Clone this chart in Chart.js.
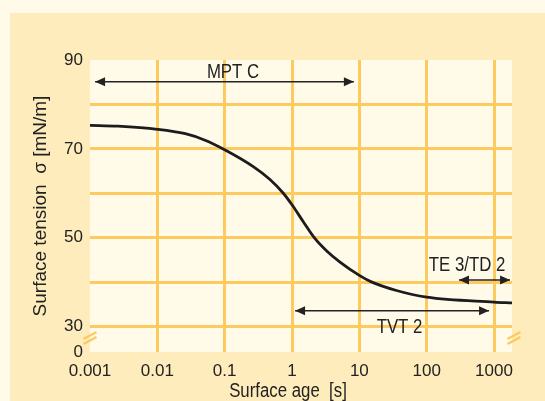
<!DOCTYPE html>
<html>
<head>
<meta charset="utf-8">
<script src="https://cdn.jsdelivr.net/npm/chart.js@4.4.0/dist/chart.umd.min.js"></script>
<style>
    html, body { margin: 0; padding: 0; background: #fffbe8; overflow: hidden; }
    #panel { position: absolute; left: 10px; top: 13px; right: 0; bottom: 0; background: #feecbc; }
    #wrap { position: absolute; left: 0; top: 0; width: 545px; height: 401px; }
</style>
</head>
<body>
<div id="panel"></div>
<div id="wrap"><canvas id="chart" width="545" height="401"></canvas></div>
<script>
// 表面年齢 [s] と表面張力 [mN/m]
const ageValues = [0.001, 0.0026, 0.01, 0.026, 0.05, 0.1, 0.266, 0.471, 0.743, 1, 1.47, 2.14, 3.28, 5.16, 10, 14.8, 35.6, 100, 1000, 1850];
const tensionValues = [75.3, 75.1, 74.4, 73.4, 72.0, 69.8, 66.0, 63.1, 60.0, 57.4, 53.6, 50.0, 47.0, 44.5, 41.5, 40.1, 38.1, 36.6, 35.5, 35.3];

// 目盛り
const xTickValues = [0.001, 0.01, 0.1, 1, 10, 100, 1000];
const xTickLabels = ['0.001', '0.01', '0.1', '1', '10', '100', '1000'];
const yTickValues = [24.26, 30, 40, 50, 60, 70, 80, 90];
const yTickLabels = ['0', '30', '', '50', '', '70', '', '90'];

// 測定範囲（矢印）
const rangeNames = ['MPT C', 'TVT 2', 'TE 3/TD 2'];
const rangeFrom = [0.00119, 1.11, 302];
const rangeTo = [8.3, 844, 1730];
const rangeLevel = [85.1, 33.56, 40.47];
const labelAge = [0.133, 39.5, 398];
const labelLevel = [85.95, 28.54, 42.5];

const FONT = "'Liberation Sans', Arial, sans-serif";
const GRID = '#fdca5f';
const INK = '#222';

// プロット領域の背景
const plotBg = {
    id: 'plotBg',
    beforeDraw(chart) {
        const { ctx, chartArea: a } = chart;
        ctx.save();
        ctx.fillStyle = '#fffbe8';
        ctx.fillRect(a.left, a.top, a.right - a.left, a.bottom - a.top);
        ctx.restore();
    }
};

// 矢印の先端
const arrowHeads = {
    id: 'arrowHeads',
    afterDatasetsDraw(chart) {
        const ctx = chart.ctx;
        chart.data.datasets.forEach((ds, i) => {
            if (!ds.arrow) return;
            const pts = chart.getDatasetMeta(i).data;
            ctx.save();
            ctx.fillStyle = INK;
            [[pts[0], -1], [pts[1], 1]].forEach(([p, dir]) => {
                ctx.beginPath();
                ctx.moveTo(p.x, p.y);
                ctx.lineTo(p.x - dir * 10, p.y - 4.5);
                ctx.lineTo(p.x - dir * 10, p.y + 4.5);
                ctx.closePath();
                ctx.fill();
            });
            ctx.restore();
        });
    }
};

// 細めの文字を描く
function narrowText(ctx, text, px, py) {
    ctx.save();
    ctx.translate(px, py);
    ctx.scale(0.84, 1);
    ctx.fillText(text, 0, 0);
    ctx.restore();
}

// ラベル・軸タイトル・省略記号
const decorations = {
    id: 'decorations',
    afterDraw(chart) {
        const { ctx, chartArea: a, scales: { x, y } } = chart;
        ctx.save();
        ctx.fillStyle = INK;
        ctx.font = '20px ' + FONT;
        ctx.textAlign = 'center';
        ctx.textBaseline = 'alphabetic';
        rangeNames.forEach((name, i) => {
            narrowText(ctx, name, x.getPixelForValue(labelAge[i]), y.getPixelForValue(labelLevel[i]));
        });
        narrowText(ctx, 'Surface age  [s]', 288, 397);

        // 軸の省略記号 //
        ctx.strokeStyle = GRID;
        ctx.lineWidth = 2.5;
        const breakY = 338;
        [a.left, a.right + 2].forEach(cx => {
            [-2.5, 2.5].forEach(dy => {
                ctx.beginPath();
                ctx.moveTo(cx - 6.5, breakY + dy + 3.5);
                ctx.lineTo(cx + 6.5, breakY + dy - 3.5);
                ctx.stroke();
            });
        });
        ctx.restore();
    }
};

const arrowSets = rangeNames.map((name, i) => ({
    label: name,
    arrow: true,
    data: [{ x: rangeFrom[i], y: rangeLevel[i] }, { x: rangeTo[i], y: rangeLevel[i] }],
    borderColor: INK,
    borderWidth: 1.6,
    pointRadius: 0
}));

new Chart(document.getElementById('chart').getContext('2d'), {
    type: 'line',
    data: {
        datasets: [{
            label: 'Surface tension',
            data: ageValues.map((v, i) => ({ x: v, y: tensionValues[i] })),
            borderColor: '#1c1c1c',
            borderWidth: 2.8,
            pointRadius: 0,
            cubicInterpolationMode: 'monotone'
        }, ...arrowSets]
    },
    options: {
        responsive: false,
        animation: false,
        layout: { padding: { left: 0, right: 33, top: 60, bottom: 0 } },
        plugins: { legend: { display: false }, tooltip: { enabled: false } },
        scales: {
            x: {
                type: 'logarithmic',
                min: 0.001,
                max: 1850,
                afterBuildTicks: (s) => { s.ticks = xTickValues.map(v => ({ value: v })); },
                afterFit: (s) => { s.height = 49; },
                border: { display: false },
                grid: {
                    color: (c) => c.index === 0 ? 'rgba(0,0,0,0)' : GRID,
                    lineWidth: 3,
                    drawTicks: false
                },
                ticks: {
                    autoSkip: false,
                    maxRotation: 0,
                    padding: 9,
                    color: INK,
                    font: { family: FONT, size: 17 },
                    callback: (v, i) => xTickLabels[i]
                }
            },
            y: {
                type: 'linear',
                min: 24.26,
                max: 90,
                afterBuildTicks: (s) => { s.ticks = yTickValues.map(v => ({ value: v })); },
                afterFit: (s) => { s.width = 90; },
                border: { display: false },
                grid: {
                    color: (c) => (c.index === 0 || c.index === yTickValues.length - 1) ? 'rgba(0,0,0,0)' : GRID,
                    lineWidth: 3,
                    drawTicks: false
                },
                ticks: {
                    autoSkip: false,
                    padding: 7,
                    color: INK,
                    font: { family: FONT, size: 17 },
                    callback: (v, i) => yTickLabels[i]
                },
                title: {
                    display: true,
                    text: 'Surface tension  σ [mN/m]',
                    color: INK,
                    font: { family: FONT, size: 19 },
                    padding: { top: 29, bottom: 0 }
                }
            }
        }
    },
    plugins: [plotBg, arrowHeads, decorations]
});
</script>
</body>
</html>
